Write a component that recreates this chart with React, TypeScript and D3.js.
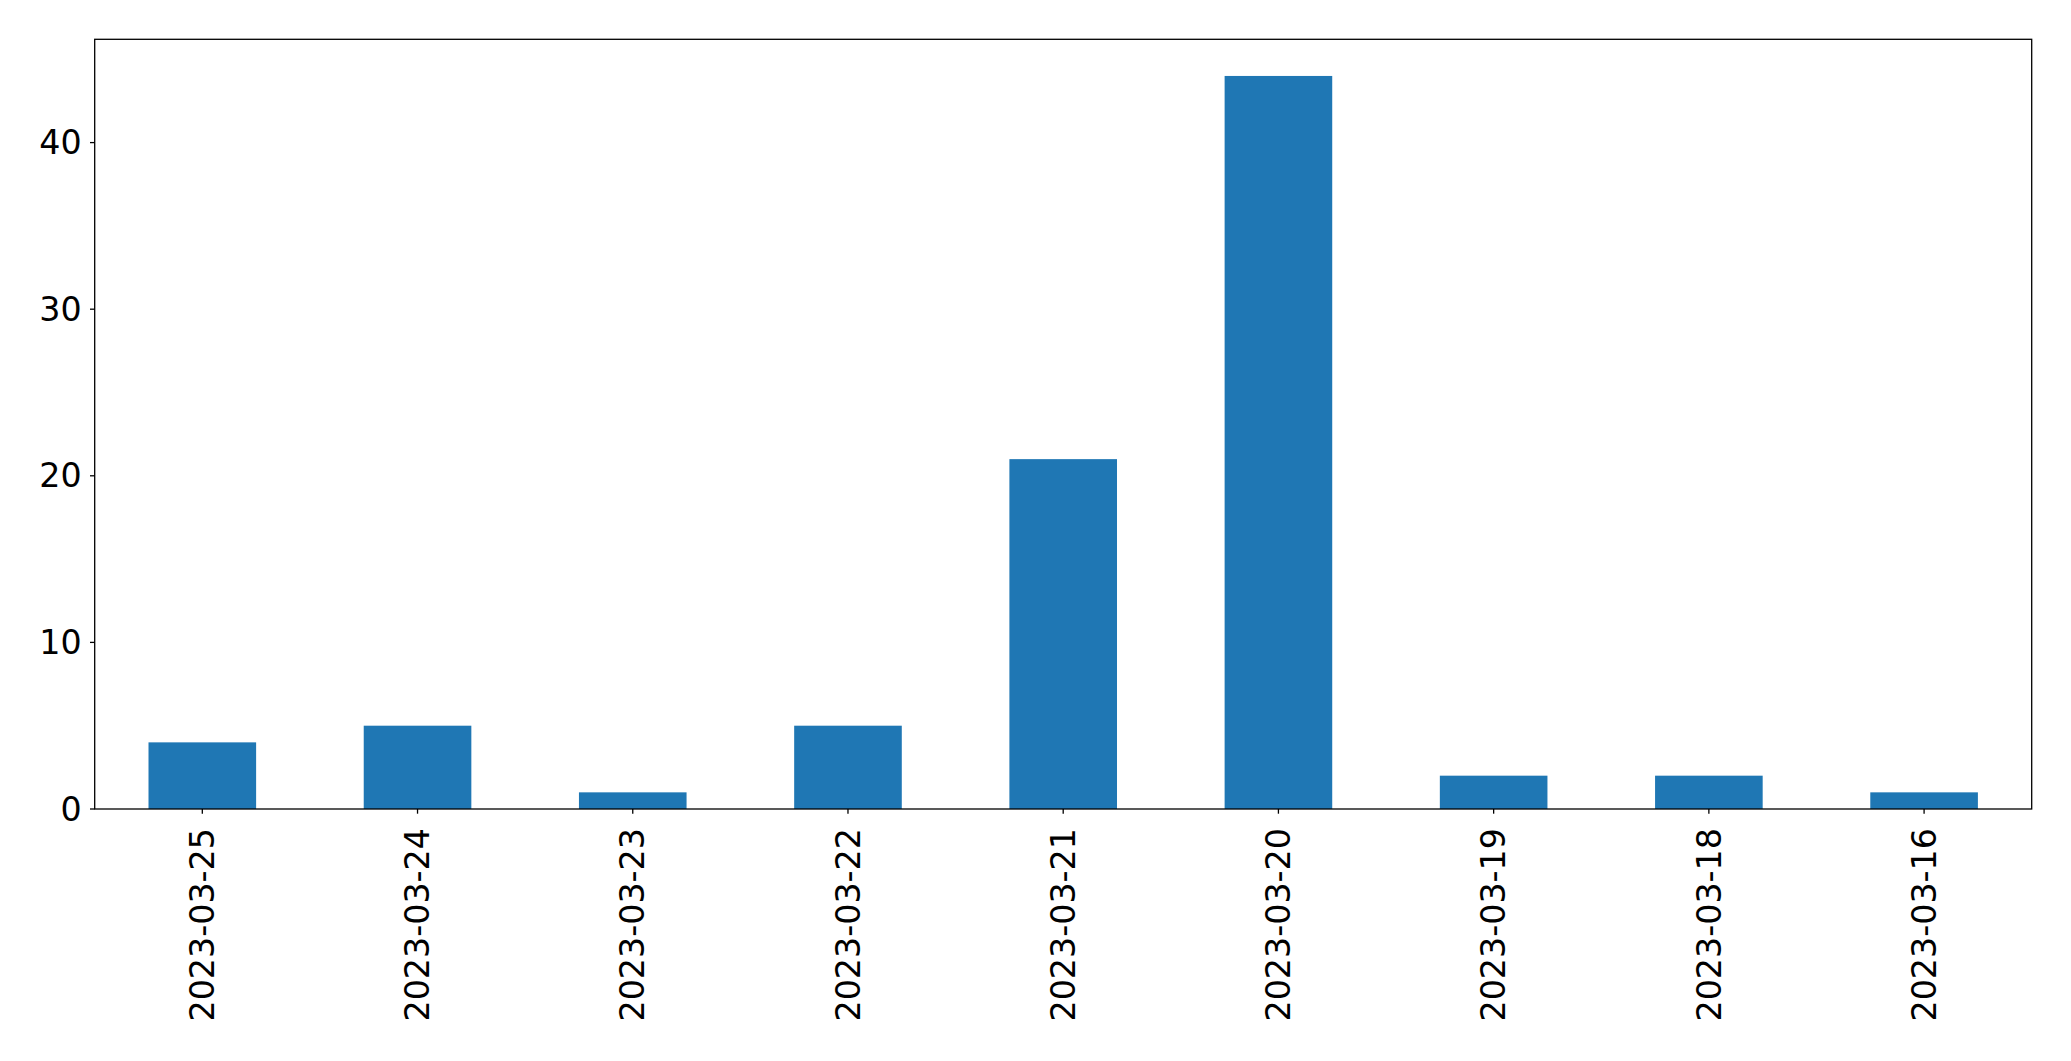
import React from "react";
import * as d3 from "d3";

const categories = ["2023-03-25", "2023-03-24", "2023-03-23", "2023-03-22", "2023-03-21", "2023-03-20", "2023-03-19", "2023-03-18", "2023-03-16"];
const values = [4, 5, 1, 5, 21, 44, 2, 2, 1];
const yTicks = [0, 10, 20, 30, 40];

const W = 2071;
const H = 1061;
const left = 94.7;
const right = 2031.7;
const top = 39.3;
const bottom = 809;
const FONT = "'DejaVu Sans', sans-serif";
const FS = 33.3;

export default function App() {
  const n = categories.length;
  const x = d3.scaleLinear().domain([-0.5, n - 0.5]).range([left, right]);
  const y = d3.scaleLinear().domain([0, 44 * 1.05]).range([bottom, top]);
  const bw = x(0.25) - x(-0.25);
  return (
    <svg width={W} height={H} style={{ position: "absolute", left: 0, top: 0, background: "#fff" }}>
      <rect x={0} y={0} width={W} height={H} fill="#fff" />
      {values.map((v, i) => (
        <rect key={i} x={x(i) - bw / 2} y={y(v)} width={bw} height={y(0) - y(v)} fill="#1f77b4" />
      ))}
      <rect x={left} y={top} width={right - left} height={bottom - top} fill="none" stroke="#000" strokeWidth={1.3} />
      {yTicks.map((t) => (
        <g key={t}>
          <line x1={left - 4.7} x2={left} y1={y(t)} y2={y(t)} stroke="#000" strokeWidth={1.3} />
          <text x={left - 13} y={y(t)} dy="0.35em" textAnchor="end" fontFamily={FONT} fontSize={FS} fill="#000">{t}</text>
        </g>
      ))}
      {categories.map((c, i) => (
        <g key={c}>
          <line x1={x(i)} x2={x(i)} y1={bottom} y2={bottom + 4.7} stroke="#000" strokeWidth={1.3} />
          <text transform={`translate(${x(i)},${bottom + 19}) rotate(-90)`} textAnchor="end" dy="0.35em" fontFamily={FONT} fontSize={FS} fill="#000">{c}</text>
        </g>
      ))}
    </svg>
  );
}
